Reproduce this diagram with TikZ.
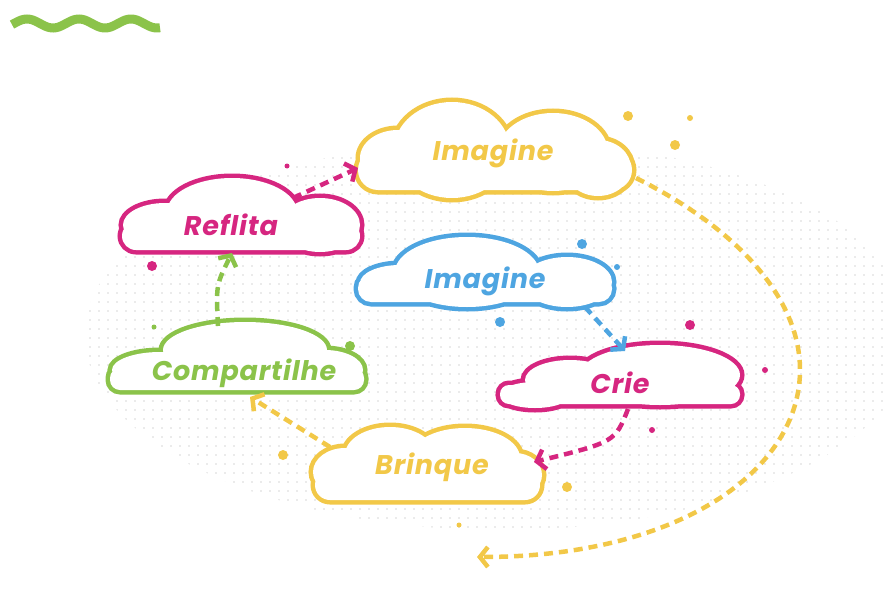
\documentclass[tikz,border=0pt]{standalone}
\usepackage{fontspec}
\setmainfont{Poppins}[LetterSpace=3]
\usetikzlibrary{arrows.meta,patterns.meta}
\definecolor{myyellow}{RGB}{242,200,72}
\definecolor{mymagenta}{RGB}{214,38,128}
\definecolor{myblue}{RGB}{78,165,225}
\definecolor{mygreen}{RGB}{139,195,74}

% outline of a union of shapes: thick stroke, then white fill on top
\newcommand{\cloudshape}[3]{%
  \draw[#1, line width=9pt, rounded corners=#2] #3;
  \fill[white, rounded corners=#2] #3;}

\begin{document}
\begin{tikzpicture}[x=1pt, y=-1pt,
    lbl/.style={font=\fontsize{27}{32}\selectfont\bfseries\itshape},
    flow/.style={line width=4.5pt, dash pattern=on 9pt off 6pt,
      -{Straight Barb[length=8pt,width=20pt]}}]
    \useasboundingbox (0,0) rectangle (890,599);

    % dotted backdrop
    \fill[pattern={Dots[distance=9pt,radius=0.9pt]}, pattern color=black!16]
        (500,335) ellipse [x radius=415, y radius=195];

    % wave
    \draw[mygreen, line width=9pt]
        plot[domain=12:160, samples=80] (\x,{23.5-4.5*sin(6.923*(\x-14))});

    % clouds
    \cloudshape{myyellow}{20pt}{(358,190) rectangle (632,150)
        (398,158) ellipse [x radius=38, y radius=28]
        (452,150) ellipse [x radius=58, y radius=48]
        (553,152) ellipse [x radius=55, y radius=39]
        (598,168) ellipse [x radius=33, y radius=28]}
    \cloudshape{mymagenta}{14pt}{(122,250) rectangle (360,222)
        (165,225) ellipse [x radius=42, y radius=22]
        (232,212) ellipse [x radius=65, y radius=34]
        (320,225) ellipse [x radius=40, y radius=27]}
    \cloudshape{myblue}{13pt}{(358,302) rectangle (612,275)
        (400,283) ellipse [x radius=40, y radius=18]
        (467,272) ellipse [x radius=72, y radius=35]
        (567,282) ellipse [x radius=45, y radius=25]}
    \cloudshape{mygreen}{10pt}{(110,390) rectangle (364,368)
        (160,370) ellipse [x radius=48, y radius=18]
        (245,350) ellipse [x radius=82, y radius=28]
        (325,370) ellipse [x radius=38, y radius=20]}
    \cloudshape{mymagenta}{9pt}{(500,404) rectangle (740,385)
        (535,395) ellipse [x radius=35, y radius=13]
        (570,380) ellipse [x radius=45, y radius=20]
        (660,375) ellipse [x radius=80, y radius=30]}
    \cloudshape{myyellow}{15pt}{(315,500) rectangle (540,470)
        (345,472) ellipse [x radius=32, y radius=24]
        (390,455) ellipse [x radius=45, y radius=28]
        (465,458) ellipse [x radius=55, y radius=30]
        (515,475) ellipse [x radius=27, y radius=22]}

    % labels
    \node[lbl, text=myyellow] (imagA) at (493,153) {Imagine};
    \node[lbl, text=mymagenta] (reflita) at (231,225) {Reflita};
    \node[lbl, text=myblue] (imagB) at (485,281) {Imagine};
    \node[lbl, text=mygreen] (compart) at (244,373) {Compartilhe};
    \node[lbl, text=mymagenta] (crie) at (620,383) {Crie};
    \node[lbl, text=myyellow] (brinque) at (432,467) {Brinque};

    % connector ends
    \coordinate (reflita-ne) at (293,198);
    \coordinate (imagA-w) at (358,168);
    \coordinate (imagA-e) at (636,178);
    \coordinate (imagA-back) at (477,557);
    \coordinate (imagB-se) at (585,307);
    \coordinate (crie-n) at (625,351);
    \coordinate (crie-s) at (628,409);
    \coordinate (brinque-e) at (534,462);
    \coordinate (brinque-nw) at (330,447);
    \coordinate (compart-se) at (250,397);
    \coordinate (compart-n) at (218,326);
    \coordinate (reflita-s) at (232,253);

    % flow
    \draw[flow, mymagenta] (reflita-ne) -- (imagA-w);
    \draw[flow, myyellow] (imagA-e) .. controls (740,230) and (800,300) .. (800,370)
        .. controls (800,470) and (680,557) .. (imagA-back);
    \draw[flow, myblue] (imagB-se) -- (crie-n);
    \draw[flow, mymagenta] (crie-s) .. controls (615,442) .. (brinque-e);
    \draw[flow, myyellow] (brinque-nw) -- (compart-se);
    \draw[flow, mygreen] (compart-n) .. controls (216,285) .. (reflita-s);

    % dots
    \foreach \x/\y/\r/\c in {628/116/5/myyellow, 690/118/3/myyellow,
        675/145/5/myyellow, 283/455/5/myyellow, 567/487/5/myyellow,
        459/525/2.5/myyellow, 287/166/2.5/mymagenta, 152/266/5/mymagenta,
        690/325/5/mymagenta, 765/370/3/mymagenta, 652/430/3/mymagenta,
        582/244/5/myblue, 617/267/3/myblue, 500/322/5/myblue,
        154/327/2.5/mygreen, 350/346/5/mygreen}
        \fill[\c] (\x,\y) circle [radius=\r];
\end{tikzpicture}
\end{document}
